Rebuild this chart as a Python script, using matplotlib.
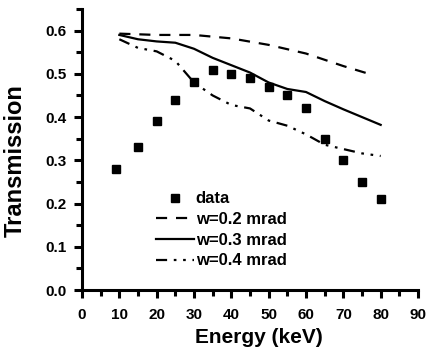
import matplotlib
matplotlib.use("Agg")
import matplotlib.pyplot as plt
from matplotlib.ticker import MultipleLocator, FormatStrFormatter

energy_data = [9, 15, 20, 25, 30, 35, 40, 45, 50, 55, 60, 65, 70, 75, 80]
trans_data = [0.28, 0.33, 0.39, 0.44, 0.48, 0.51, 0.50, 0.49, 0.47, 0.45, 0.42, 0.35, 0.30, 0.25, 0.21]

e_w02 = [10, 20, 30, 40, 50, 60, 70, 78]
t_w02 = [0.593, 0.590, 0.590, 0.582, 0.567, 0.547, 0.518, 0.497]

e_w03 = [10, 15, 20, 25, 30, 35, 40, 45, 50, 55, 60, 65, 70, 75, 80]
t_w03 = [0.590, 0.580, 0.575, 0.572, 0.558, 0.537, 0.520, 0.503, 0.480, 0.465, 0.458, 0.437, 0.418, 0.400, 0.382]

e_w04 = [10, 15, 20, 25, 30, 35, 40, 45, 50, 55, 60, 65, 70, 75, 80]
t_w04 = [0.580, 0.560, 0.552, 0.530, 0.480, 0.450, 0.428, 0.420, 0.392, 0.380, 0.360, 0.336, 0.326, 0.316, 0.310]

plt.rcParams['font.family'] = ['Liberation Sans', 'DejaVu Sans']
plt.rcParams['font.weight'] = 'bold'

fig = plt.figure(figsize=(4.27, 3.53), dpi=100)
ax = fig.add_axes([82 / 427, 63 / 353, 336 / 427, 281 / 353])

ax.plot(energy_data, trans_data, 's', color='black', markersize=6, label='data')
ax.plot(e_w02, t_w02, color='black', lw=1.6, dashes=(5, 4), label='w=0.2 mrad')
ax.plot(e_w03, t_w03, color='black', lw=1.6, label='w=0.3 mrad')
ax.plot(e_w04, t_w04, color='black', lw=1.6, dashes=(5, 3, 1.2, 3, 1.2, 3), label='w=0.4 mrad')

ax.set_xlim(0, 90)
ax.set_ylim(0, 0.65)
ax.xaxis.set_major_locator(MultipleLocator(10))
ax.xaxis.set_minor_locator(MultipleLocator(5))
ax.yaxis.set_major_locator(MultipleLocator(0.1))
ax.yaxis.set_minor_locator(MultipleLocator(0.05))
ax.yaxis.set_major_formatter(FormatStrFormatter('%.1f'))

for s in ['top', 'right']:
    ax.spines[s].set_visible(False)
for s in ['left', 'bottom']:
    ax.spines[s].set_linewidth(2.2)
ax.tick_params(which='major', direction='out', length=6, width=2.2, labelsize=11)
ax.tick_params(which='minor', direction='out', length=4, width=2.2)
ax.tick_params(axis='x', which='major', pad=7)
ax.tick_params(axis='y', which='major', pad=5)

ax.set_xlabel('Energy (keV)', fontsize=15, fontweight='bold')
ax.set_ylabel('Transmission', fontsize=17, fontweight='bold')
ax.xaxis.set_label_coords(0.525, -0.135)
ax.yaxis.set_label_coords(-0.165, 0.46)

leg = ax.legend(loc='lower left', bbox_to_anchor=(0.185, 0.035), frameon=False,
                fontsize=12, handlelength=2.3, handletextpad=0.1, labelspacing=0.34,
                borderpad=0.2)
for t in leg.get_texts():
    t.set_fontweight('bold')

fig.savefig('out.png', dpi=100)
